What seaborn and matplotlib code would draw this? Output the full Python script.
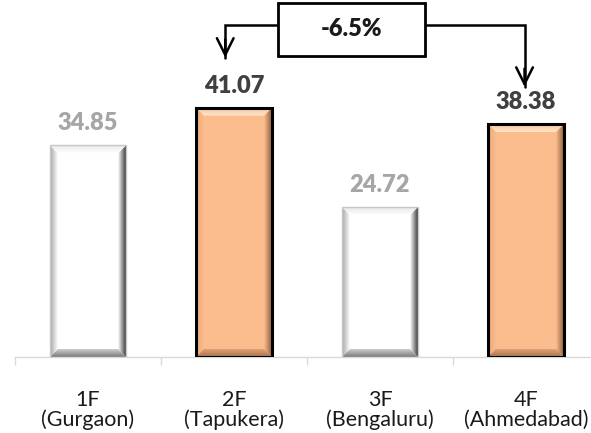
import numpy as np
import pandas as pd
import matplotlib
matplotlib.use("Agg")
import matplotlib.pyplot as plt
from matplotlib.patches import Polygon, Rectangle
import seaborn as sns

# Chart data
categories = ["1F\n(Gurgaon)", "2F\n(Tapukera)", "3F\n(Bengaluru)", "4F\n(Ahmedabad)"]
values = [34.85, 41.07, 24.72, 38.38]
highlight = [False, True, False, True]
change_label = "-6.5%"

sns.set_theme(style="white")
plt.rcParams["font.family"] = ["Lato", "DejaVu Sans"]

df = pd.DataFrame({"plant": categories, "value": values})

fig = plt.figure(figsize=(5.91, 4.33), dpi=100)
ax = fig.add_axes([15 / 591, 76 / 433, 584 / 591, 357 / 433])

face_plain = "#FFFFFF"
face_orange = "#FBBD8D"
palette = [face_orange if h else face_plain for h in highlight]

sns.barplot(data=df, x="plant", y="value", hue="plant", palette=palette,
            legend=False, width=0.52, saturation=1, ax=ax)

ax.set_xlim(-0.5, 3.5)
ax.set_ylim(0, 58.8)
ax.set_xlabel("")
ax.set_ylabel("")
ax.set_yticks([])
for side in ("left", "right", "top"):
    ax.spines[side].set_visible(False)
ax.spines["bottom"].set_color("#D9D9D9")
ax.spines["bottom"].set_linewidth(1.0)
ax.set_xticks(np.arange(len(categories)))
ax.set_xticklabels(categories, fontsize=15.5, color="#1A1A1A", linespacing=0.95)
ax.tick_params(axis="x", which="major", length=0, pad=24)
ax.set_xticks(np.arange(len(categories) + 1) - 0.5, minor=True)
ax.tick_params(axis="x", which="minor", length=6, width=1, color="#D9D9D9",
               direction="out", bottom=True)
ax.patch.set_alpha(0)

fig.canvas.draw()
to_data = ax.transData.inverted()
bevel_px = 8.0


def grad_fill(poly, c_out, c_in, direction):
    """Fill a polygon with a linear gradient from c_out to c_in."""
    xs, ys = poly[:, 0], poly[:, 1]
    n = 64
    t = np.linspace(0, 1, n)
    c0 = np.array(matplotlib.colors.to_rgb(c_out))
    c1 = np.array(matplotlib.colors.to_rgb(c_in))
    ramp = c0[None, :] * (1 - t[:, None]) + c1[None, :] * t[:, None]
    if direction == "right":      # outer edge on the left
        img = ramp[None, :, :]
    elif direction == "left":     # outer edge on the right
        img = ramp[None, ::-1, :]
    elif direction == "down":     # outer edge on top
        img = ramp[:, None, :]
    else:                         # outer edge at the bottom
        img = ramp[::-1, None, :]
    patch = Polygon(poly, closed=True, facecolor="none", edgecolor="none",
                    transform=ax.transData)
    ax.add_patch(patch)
    im = ax.imshow(img, extent=(xs.min(), xs.max(), ys.min(), ys.max()),
                   origin="upper", aspect="auto", interpolation="bilinear",
                   zorder=3)
    im.set_clip_path(patch)


for bar, h in zip(ax.patches[:len(values)], highlight):
    x0, y0 = bar.get_x(), bar.get_y()
    w, ht = bar.get_width(), bar.get_height()
    x1, y1 = x0 + w, y0 + ht
    p0 = ax.transData.transform((x0, y0))
    q = to_data.transform(p0 + np.array([bevel_px, bevel_px]))
    bx, by = q[0] - x0, q[1] - y0
    outer = np.array([[x0, y0], [x1, y0], [x1, y1], [x0, y1]])
    inner = np.array([[x0 + bx, y0 + by], [x1 - bx, y0 + by],
                      [x1 - bx, y1 - by], [x0 + bx, y1 - by]])
    left = np.array([outer[0], outer[3], inner[3], inner[0]])
    right = np.array([outer[1], outer[2], inner[2], inner[1]])
    top = np.array([outer[3], outer[2], inner[2], inner[3]])
    bottom = np.array([outer[0], outer[1], inner[1], inner[0]])
    face = face_orange if h else face_plain
    if h:
        grad_fill(left, "#E9A877", face, "right")
        grad_fill(right, "#8E5E3E", face, "left")
        grad_fill(top, "#F6C49A", "#FFE6C8", "down")
        grad_fill(bottom, "#A8734F", "#E4A77A", "up")
        bar.set_edgecolor("#000000")
        bar.set_linewidth(2.2)
    else:
        grad_fill(left, "#A5A5A5", "#FFFFFF", "right")
        grad_fill(right, "#3C3C3C", "#FFFFFF", "left")
        grad_fill(top, "#E6E6E6", "#FFFFFF", "down")
        grad_fill(bottom, "#7A7A7A", "#D8D8D8", "up")
        bar.set_edgecolor("#C8C8C8")
        bar.set_linewidth(1.0)
    bar.set_zorder(4)
    bar.set_facecolor("none")
    ax.add_patch(Rectangle((x0, y0), w, ht, facecolor=face,
                           edgecolor="none", zorder=2))

# Value labels above bars
for i, (v, h) in enumerate(zip(values, highlight)):
    ax.annotate(f"{v:.2f}", xy=(i, v), xytext=(0, 8), textcoords="offset points",
                ha="center", va="bottom", fontsize=17, fontweight="heavy",
                color="#404040" if h else "#A6A6A6", annotation_clip=False)

# Change call-out between the two highlighted plants
box_x0, box_x1 = 1.30, 2.31
box_y0, box_y1 = 49.6, 58.3
ax.add_patch(Rectangle((box_x0, box_y0), box_x1 - box_x0, box_y1 - box_y0,
                       facecolor="white", edgecolor="black", lw=2.0,
                       clip_on=False, zorder=6))
ax.text((box_x0 + box_x1) / 2, (box_y0 + box_y1) / 2, change_label,
        ha="center", va="center", fontsize=17, fontweight="heavy",
        color="#1A1A1A", zorder=7)
line_y = 54.7
left_x, left_tip = 0.94, 49.3
right_x, right_tip = 2.99, 44.5
ax.plot([box_x0, left_x, left_x], [line_y, line_y, left_tip], color="black",
        lw=1.8, clip_on=False, zorder=5, solid_joinstyle="miter")
ax.plot([box_x1, right_x, right_x], [line_y, line_y, right_tip], color="black",
        lw=1.8, clip_on=False, zorder=5, solid_joinstyle="miter")
for ax_x, tip in ((left_x, left_tip), (right_x, right_tip)):
    ax.annotate("", xy=(ax_x, tip), xytext=(ax_x, tip + 3),
                arrowprops=dict(arrowstyle="->,head_length=1.0,head_width=0.5",
                                color="black", lw=1.8, shrinkA=0, shrinkB=0),
                annotation_clip=False, zorder=5)

fig.savefig("out.png", dpi=100)
